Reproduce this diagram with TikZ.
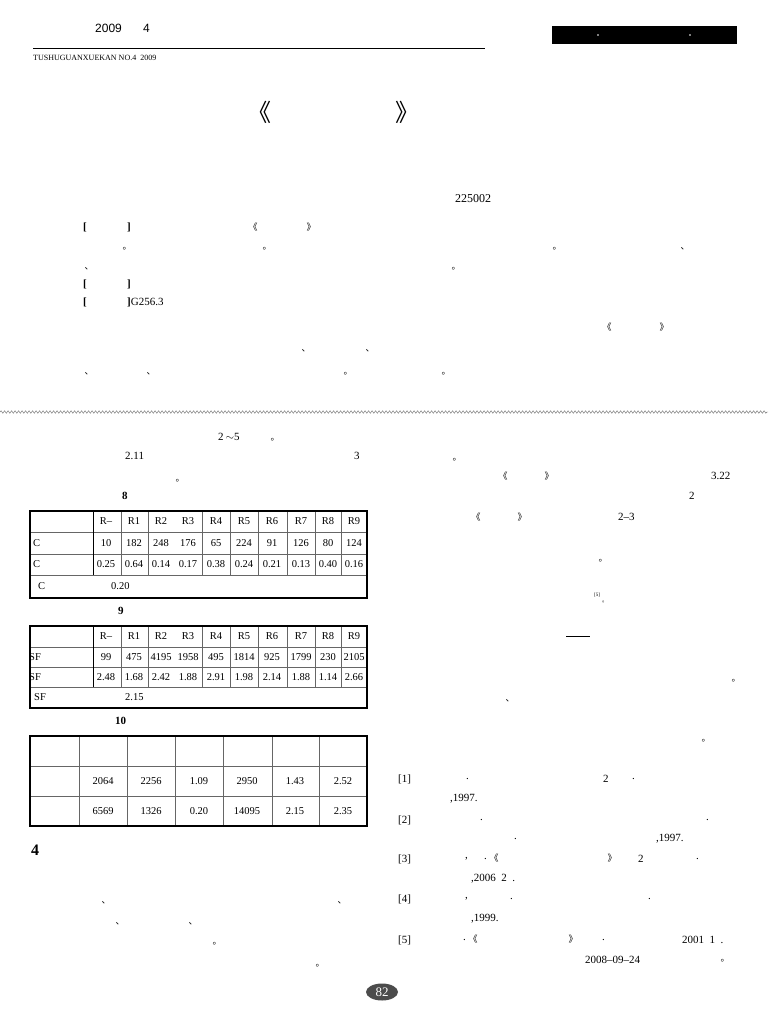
\documentclass[tikz,border=0pt]{standalone}
\usepackage{fontspec}
\setmainfont{Liberation Serif}
\newfontfamily\cjk{Noto Sans CJK SC}
\newfontfamily\hsans{Liberation Sans}
\usetikzlibrary{decorations.pathmorphing,shapes.geometric}
\begin{document}
\begin{tikzpicture}[x=1pt,y=-1pt,
  t/.style={anchor=west,inner sep=0pt,font=\fontsize{11}{11}\selectfont},
  tc/.style={anchor=center,inner sep=0pt,font=\fontsize{10.5}{11}\selectfont},
  pj/.style={anchor=center,inner sep=0pt,font=\cjk\fontsize{9}{9}\selectfont},
  outer/.style={line width=1.1pt,black},
  inner/.style={line width=0.5pt,black!60}]
\useasboundingbox (0,0) rectangle (768,1024);
\fill[white] (0,0) rectangle (768,1024);
% header
\node[t,font=\hsans\fontsize{12}{12}\selectfont] (yr) at (95,28) {2009};
\node[t,font=\hsans\fontsize{12}{12}\selectfont] (no) at (143,28) {4};
\draw[line width=0.7pt] (33,48) coordinate (h1) -- (485,48) coordinate (h2);
\node[t,font=\fontsize{8}{8}\selectfont] (eng) at (33,58) {TUSHUGUANXUEKAN NO.4\ \ 2009};
\fill[black] (552,26) rectangle (737,44);
\fill[white] (598,35) circle (0.9) (690,35) circle (0.9);
% title
\node[pj,font=\cjk\fontsize{24}{24}\selectfont] (tl) at (259,112) {《};
\node[pj,font=\cjk\fontsize{24}{24}\selectfont] (tr) at (407,112) {》};
\node[t,font=\fontsize{12}{12}\selectfont] (zip) at (455,199) {225002};
% abstract
\foreach \y in {227,284,302}{\node[t,font=\bfseries\fontsize{11}{11}\selectfont] at (83,\y) {[};}
\node[t,font=\bfseries\fontsize{11}{11}\selectfont] (a1) at (127,227) {]};
\node[t,font=\bfseries\fontsize{11}{11}\selectfont] (a2) at (127,284) {]};
\node[t,font=\fontsize{11}{11}\selectfont] (a3) at (127,302) {{\bfseries]}G256.3};
\node[pj] at (253,227) {《}; \node[pj] at (311,227) {》};
\node[pj] at (127,249) {。}; \node[pj] at (267,249) {。}; \node[pj] at (557,249) {。}; \node[pj] at (685,249) {、};
\node[pj] at (89,269) {、}; \node[pj] at (456,269) {。};
\node[pj] at (607,327) {《}; \node[pj] at (664,327) {》};
\node[pj] at (306,351) {、}; \node[pj] at (370,351) {、};
\node[pj] at (89,374) {、}; \node[pj] at (151,374) {、}; \node[pj] at (348,374) {。}; \node[pj] at (446,374) {。};
% ornament
\draw[black!55,line width=0.45pt,decorate,decoration={snake,amplitude=1.3pt,segment length=3.5pt}] (0,412) coordinate (o1) -- (768,412) coordinate (o2);
% left column text
\node[t] at (218,437) {2\,$\sim$5}; \node[pj] at (275,440) {。};
\node[t] at (125,456) {2.11}; \node[t] at (354,456) {3};
\node[pj] at (180,481) {。};
\node[t,font=\bfseries\fontsize{11}{11}\selectfont] (t8) at (122,496) {8};
\node[t,font=\bfseries\fontsize{11}{11}\selectfont] (t9) at (118,611) {9};
\node[t,font=\bfseries\fontsize{11}{11}\selectfont] (t10) at (115,721) {10};
% table 8
\def\cols{93,121,148,202,230,258,287,315,341}
\draw[inner] (30,532) -- (367,532) (30,554) -- (367,554) (30,575) -- (367,575);
\foreach \x in \cols {\draw[inner] (\x,511) -- (\x,575);}
\draw[line width=0.9pt] (93,511) -- (93,575);
\draw[outer] (30,511) rectangle (367,598);
\foreach \x/\s in {106/R--,134/R1,161/R2,188/R3,216/R4,244/R5,272/R6,301/R7,328/R8,354/R9}{\node[tc] at (\x,521) {\s};}
\foreach \x/\s in {106/10,134/182,161/248,188/176,216/65,244/224,272/91,301/126,328/80,354/124}{\node[tc] at (\x,543) {\s};}
\foreach \x/\s in {106/0.25,134/0.64,161/0.14,188/0.17,216/0.38,244/0.24,272/0.21,301/0.13,328/0.40,354/0.16}{\node[tc] at (\x,564) {\s};}
\node[t,font=\fontsize{10.5}{11}\selectfont] at (33,543) {C};
\node[t,font=\fontsize{10.5}{11}\selectfont] at (33,564) {C};
\node[t,font=\fontsize{10.5}{11}\selectfont] at (38,586) {C};
\node[t,font=\fontsize{10.5}{11}\selectfont] at (111,586) {0.20};
% table 9
\draw[inner] (30,647) -- (367,647) (30,667) -- (367,667) (30,687) -- (367,687);
\foreach \x in \cols {\draw[inner] (\x,626) -- (\x,687);}
\draw[line width=0.9pt] (93,626) -- (93,687);
\draw[outer] (30,626) rectangle (367,708);
\foreach \x/\s in {106/R--,134/R1,161/R2,188/R3,216/R4,244/R5,272/R6,301/R7,328/R8,354/R9}{\node[tc] at (\x,636) {\s};}
\foreach \x/\s in {106/99,134/475,161/4195,188/1958,216/495,244/1814,272/925,301/1799,328/230,354/2105}{\node[tc] at (\x,657) {\s};}
\foreach \x/\s in {106/2.48,134/1.68,161/2.42,188/1.88,216/2.91,244/1.98,272/2.14,301/1.88,328/1.14,354/2.66}{\node[tc] at (\x,677) {\s};}
\node[t,font=\fontsize{10.5}{11}\selectfont] at (29,657) {SF};
\node[t,font=\fontsize{10.5}{11}\selectfont] at (29,677) {SF};
\node[t,font=\fontsize{10.5}{11}\selectfont] at (34,697) {SF};
\node[t,font=\fontsize{10.5}{11}\selectfont] at (125,697) {2.15};
% table 10
\draw[inner] (30,766) -- (367,766) (30,796) -- (367,796);
\foreach \x in {79,127,175,223,272,319}{\draw[inner] (\x,736) -- (\x,826);}
\draw[outer] (30,736) rectangle (367,826);
\foreach \x/\s in {103/2064,151/2256,199/1.09,247/2950,295/1.43,343/2.52}{\node[tc] at (\x,781) {\s};}
\foreach \x/\s in {103/6569,151/1326,199/0.20,247/14095,295/2.15,343/2.35}{\node[tc] at (\x,811) {\s};}
\node[t,font=\bfseries\fontsize{16}{16}\selectfont] (h4) at (31,850) {4};
\node[pj] at (106,903) {、}; \node[pj] at (342,903) {、};
\node[pj] at (120,924) {、}; \node[pj] at (193,924) {、};
\node[pj] at (217,944) {。}; \node[pj] at (320,966) {。};
% right column
\node[pj] at (457,460) {。};
\node[pj] at (503,476) {《}; \node[pj] at (549,476) {》};
\node[t] at (711,476) {3.22};
\node[t] at (689,496) {2};
\node[pj] at (476,517) {《}; \node[pj] at (522,517) {》};
\node[t] at (618,517) {2--3};
\node[pj] at (603,561) {。};
\node[t,font=\fontsize{5}{5}\selectfont] at (594,595) {[5]};
\node[pj,font=\cjk\fontsize{6}{6}\selectfont] at (605,602) {。};
\draw[line width=0.7pt] (566,636) coordinate (d1) -- (590,636) coordinate (d2);
\node[pj] at (736,681) {。}; \node[pj] at (510,701) {、}; \node[pj] at (706,741) {。};
% references
\node[t] at (398,779) {[1]}; \node[t] at (466,779) {.}; \node[t] at (603,779) {2}; \node[t] at (632,779) {.};
\node[t] at (450,799) {,1997.};
\node[t] at (398,820) {[2]}; \node[t] at (480,820) {.}; \node[t] at (706,820) {.};
\node[t] at (514,839) {.}; \node[t] at (656,839) {,1997.};
\node[t] at (398,859) {[3]}; \node[t] at (465,859) {,}; \node[t] at (484,859) {.}; \node[pj] at (494,858) {《};
\node[pj] at (612,858) {》}; \node[t] at (638,859) {2}; \node[t] at (696,859) {.};
\node[t] at (471,879) {,2006\ \ 2\ \ .};
\node[t] at (398,899) {[4]}; \node[t] at (465,899) {,}; \node[t] at (510,899) {.}; \node[t] at (648,899) {.};
\node[t] at (471,919) {,1999.};
\node[t] at (398,940) {[5]}; \node[t] at (463,940) {.}; \node[pj] at (473,939) {《};
\node[pj] at (573,939) {》}; \node[t] at (602,940) {.}; \node[t] at (682,940) {2001\ \ 1\ \ .};
\node[t] at (585,960) {2008--09--24}; \node[pj] at (725,961) {。};
% page number
\node[ellipse,fill=black!70,text=white,inner sep=0pt,minimum width=32pt,minimum height=17pt,font=\fontsize{13}{13}\selectfont] (pg) at (382,992) {82};
\end{tikzpicture}
\end{document}
